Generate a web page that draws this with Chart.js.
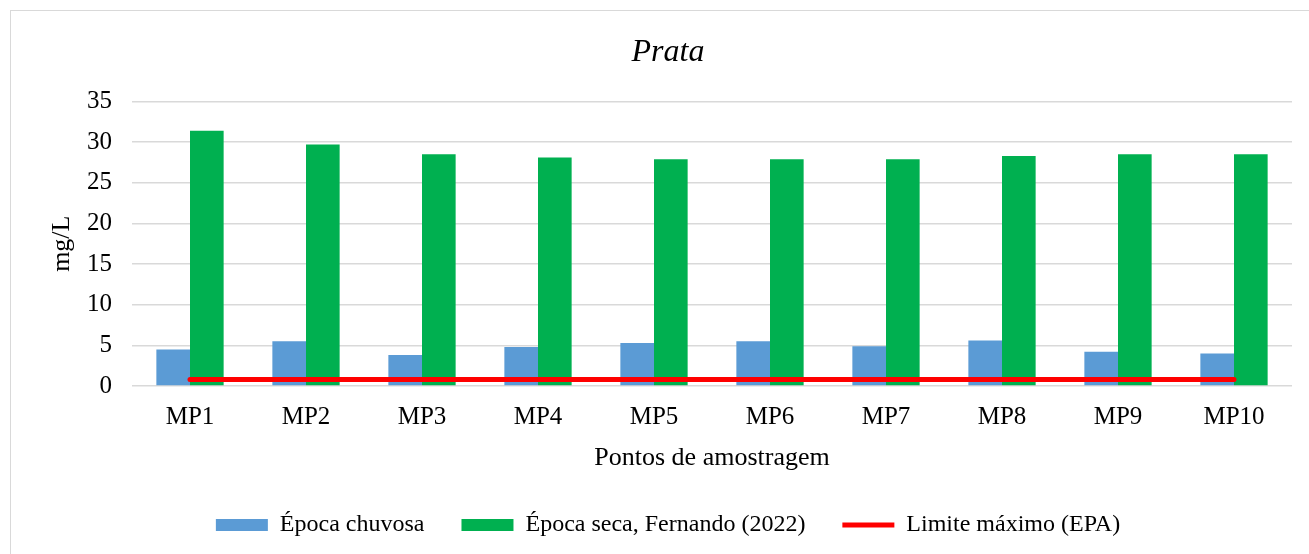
<!DOCTYPE html>
<html><head><meta charset="utf-8">
<script src="https://cdn.jsdelivr.net/npm/chart.js@4"></script>
<style>
html,body{margin:0;padding:0;background:#fff;overflow:hidden;}
#frame{position:absolute;left:10px;top:10px;width:1320px;height:560px;border:1px solid #d9d9d9;box-sizing:border-box;}
#wrap{position:absolute;left:0;top:0;width:1309px;height:554px;}
</style></head>
<body>
<div id="frame"></div>
<div id="wrap"><canvas id="c" width="1309" height="554"></canvas></div>
<script>
const categories = ['MP1','MP2','MP3','MP4','MP5','MP6','MP7','MP8','MP9','MP10'];
const epocaChuvosa = [4.5, 5.5, 3.8, 4.8, 5.3, 5.5, 4.9, 5.6, 4.2, 4.0];
const epocaSeca = [31.4, 29.7, 28.5, 28.1, 27.9, 27.9, 27.9, 28.3, 28.5, 28.5];
const limiteMaximo = [0.8, 0.8, 0.8, 0.8, 0.8, 0.8, 0.8, 0.8, 0.8, 0.8];
const yTicks = [0, 5, 10, 15, 20, 25, 30, 35];

const FONT = "'Liberation Serif', 'Times New Roman', serif";
new Chart(document.getElementById('c'), {
  data: {
    labels: categories,
    datasets: [
      { type: 'line', label: 'Limite máximo (EPA)', data: limiteMaximo, borderColor: '#ff0000', backgroundColor: '#ff0000',
        borderWidth: 5, pointRadius: 0, pointStyle: 'line', borderCapStyle: 'round', order: 0 },
      { type: 'bar', label: 'Época chuvosa', data: epocaChuvosa, backgroundColor: '#5b9bd5', borderWidth: 0,
        pointStyle: 'rect', categoryPercentage: 0.58, barPercentage: 1.0, order: 1 },
      { type: 'bar', label: 'Época seca, Fernando (2022)', data: epocaSeca, backgroundColor: '#00b050', borderWidth: 0,
        pointStyle: 'rect', categoryPercentage: 0.58, barPercentage: 1.0, order: 1 }
    ]
  },
  options: {
    responsive: false,
    animation: false,
    layout: { padding: { left: 44, right: 17, top: 23, bottom: 7 } },
    plugins: {
      title: { display: true, text: 'Prata', color: '#000', font: { family: FONT, size: 32, style: 'italic', weight: 'normal' }, padding: { top: 10, bottom: 30 } },
      legend: {
        position: 'bottom',
        labels: {
          color: '#000', font: { family: FONT, size: 24 },
          usePointStyle: true, pointStyleWidth: 52, boxWidth: 52, boxHeight: 12, padding: 37,
          sort: (a, b) => { const o = {'Época chuvosa':0,'Época seca, Fernando (2022)':1,'Limite máximo (EPA)':2}; return o[a.text]-o[b.text]; }
        }
      },
      tooltip: { enabled: false }
    },
    scales: {
      x: {
        grid: { display: false },
        border: { display: false },
        ticks: { color: '#000', font: { family: FONT, size: 25 }, padding: 8 },
        title: { display: true, text: 'Pontos de amostragem', color: '#000', font: { family: FONT, size: 26 }, padding: { top: 0, bottom: 2 } },
        afterFit: (s) => { s.height = 90; }
      },
      y: {
        min: 0, max: 35,
        afterBuildTicks: (axis) => { axis.ticks = yTicks.map(v => ({ value: v })); },
        grid: { color: '#d9d9d9', lineWidth: 1.5, drawTicks: false },
        border: { display: false },
        ticks: { color: '#000', font: { family: FONT, size: 25 }, padding: 20 },
        title: { display: true, text: 'mg/L', color: '#000', font: { family: FONT, size: 26 }, padding: { top: 3, bottom: 0 } },
        afterFit: (s) => { s.width = 88; }
      }
    }
  }
});
</script>
</body></html>
